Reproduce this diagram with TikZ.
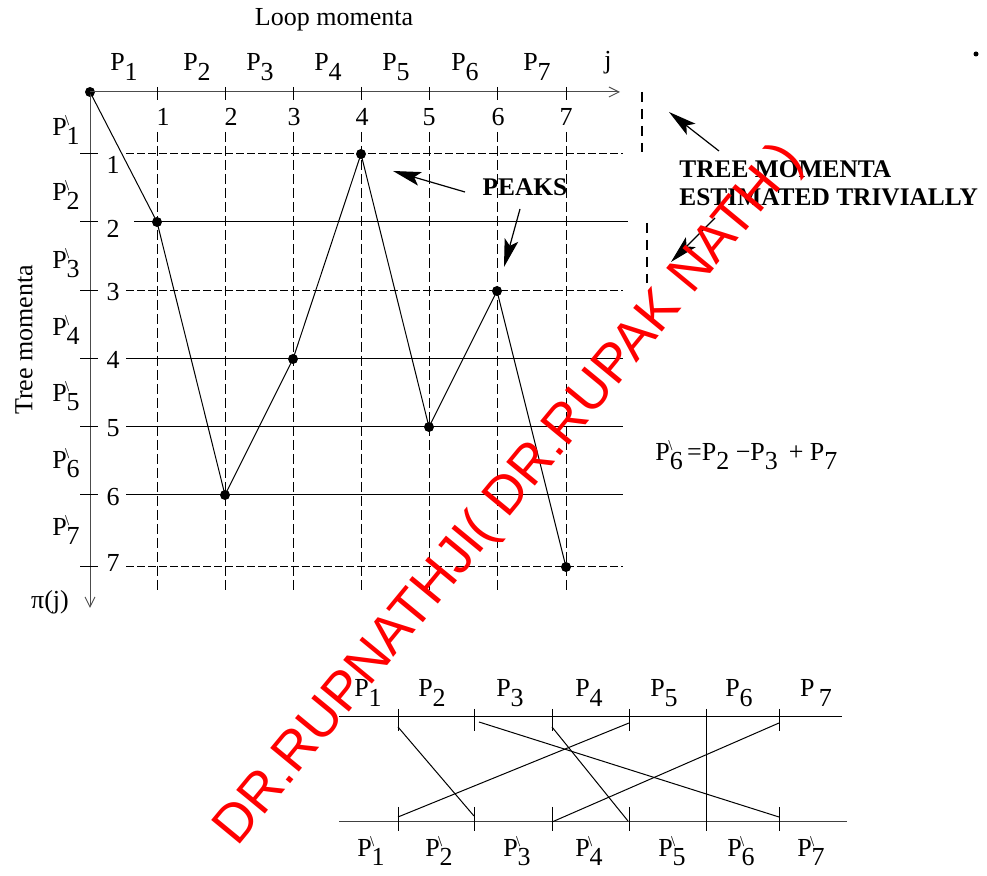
\documentclass[tikz,border=0pt]{standalone}
\usepackage{fontspec}
\setmainfont{Liberation Serif}
\newfontfamily\wmfont{Liberation Sans}
\usetikzlibrary{arrows.meta}

\newcommand{\Pm}[1]{P\raisebox{-0.8ex}{#1}}
\newcommand{\Pt}[1]{P\rlap{\raisebox{5pt}{\kern-0.8pt\fontsize{7.5}{7.5}\selectfont\textbackslash}}\raisebox{-0.8ex}{#1}}

\begin{document}
\begin{tikzpicture}[x=0.5pt, y=-0.5pt,
  lbl/.style={font=\fontsize{13}{15}\selectfont, inner sep=0pt},
  boldlbl/.style={font=\fontsize{12.7}{14}\selectfont\bfseries, inner sep=0pt, align=left},
  ptdot/.style={circle, fill=black, inner sep=0pt, minimum size=5pt},
  axis/.style={line width=0.5pt, black!70, -{Straight Barb[length=5pt,width=5pt]}},
  rule/.style={line width=0.5pt},
  dashrule/.style={line width=0.5pt, dash pattern=on 5pt off 2pt},
  finedash/.style={line width=0.5pt, dash pattern=on 4pt off 1.5pt},
  pointer/.style={line width=0.6pt, -{Stealth[length=14pt,width=7pt,inset=3pt]}},
  marker/.style={line width=1.3pt, dash pattern=on 5pt off 3.5pt},
  permline/.style={line width=0.5pt},
  wmark/.style={text=red, font=\wmfont\fontsize{27}{30}\selectfont, rotate=50.5, inner sep=0pt}
]
\useasboundingbox (0,0) rectangle (987,876);

% axes
\node[ptdot] (d0) at (90,92) {};
\coordinate (xend) at (620,92);
\coordinate (yend) at (90,608);
\draw[axis] (d0.center) -- (xend);
\draw[axis] (d0.center) -- (yend);

% columns: tick on the j axis, dashed line below the number
\draw[rule] (157,87) -- (157,100); \draw[dashrule] (157,132) -- (157,590);
\draw[rule] (225,87) -- (225,100); \draw[dashrule] (225,132) -- (225,590);
\draw[rule] (293,87) -- (293,100); \draw[dashrule] (293,132) -- (293,590);
\draw[rule] (361,87) -- (361,100); \draw[dashrule] (361,132) -- (361,590);
\draw[rule] (429,87) -- (429,100); \draw[dashrule] (429,132) -- (429,590);
\draw[rule] (497,87) -- (497,100); \draw[dashrule] (497,132) -- (497,590);
\draw[rule] (566,87) -- (566,100); \draw[dashrule] (566,132) -- (566,590);

% rows: tick on the pi(j) axis, line right of the number
\draw[rule] (80,154) -- (98,154); \draw[finedash] (126,154) -- (623,154);
\draw[rule] (80,222) -- (98,222); \draw[rule] (134,222) -- (628,222);
\draw[rule] (80,291) -- (98,291); \draw[finedash] (126,291) -- (623,291);
\draw[rule] (80,359) -- (98,359); \draw[rule] (126,359) -- (623,359);
\draw[rule] (80,427) -- (98,427); \draw[rule] (126,427) -- (623,427);
\draw[rule] (80,495) -- (98,495); \draw[rule] (126,495) -- (623,495);
\draw[rule] (80,567) -- (98,567); \draw[finedash] (126,567) -- (623,567);

% axis titles
\node[lbl] (looplbl) at (334,20) {Loop momenta};
\node[lbl, rotate=90] (treelbl) at (24,340) {Tree momenta};
\node[lbl] (pilbl) at (50,602) {π(j)};

% loop momenta along j
\node[lbl] (lp1) at (124,67) {\Pm{1}};
\node[lbl] (lp2) at (197,67) {\Pm{2}};
\node[lbl] (lp3) at (260,67) {\Pm{3}};
\node[lbl] (lp4) at (328,67) {\Pm{4}};
\node[lbl] (lp5) at (396,67) {\Pm{5}};
\node[lbl] (lp6) at (465,67) {\Pm{6}};
\node[lbl] (lp7) at (537,67) {\Pm{7}};
\node[lbl] (lj) at (608,63) {j};

% column numbers
\node[lbl] (cn1) at (163,117) {1};
\node[lbl] (cn2) at (231,117) {2};
\node[lbl] (cn3) at (294,117) {3};
\node[lbl] (cn4) at (362,117) {4};
\node[lbl] (cn5) at (429,117) {5};
\node[lbl] (cn6) at (498,117) {6};
\node[lbl] (cn7) at (566,117) {7};

% tree momenta along pi(j)
\node[lbl] (tp1) at (66,130) {\Pt{1}};
\node[lbl] (tp2) at (66,195) {\Pt{2}};
\node[lbl] (tp3) at (66,263) {\Pt{3}};
\node[lbl] (tp4) at (66,330) {\Pt{4}};
\node[lbl] (tp5) at (66,396) {\Pt{5}};
\node[lbl] (tp6) at (66,463) {\Pt{6}};
\node[lbl] (tp7) at (66,530) {\Pt{7}};

% row numbers
\node[lbl] (rn1) at (113,165) {1};
\node[lbl] (rn2) at (113,229) {2};
\node[lbl] (rn3) at (113,292) {3};
\node[lbl] (rn4) at (113,360) {4};
\node[lbl] (rn5) at (113,428) {5};
\node[lbl] (rn6) at (113,497) {6};
\node[lbl] (rn7) at (113,563) {7};

% the permutation pi(j)
\node[ptdot] (d1) at (157,222) {};
\node[ptdot] (d2) at (225,495) {};
\node[ptdot] (d3) at (293,359) {};
\node[ptdot] (d4) at (361,154) {};
\node[ptdot] (d5) at (429,427) {};
\node[ptdot] (d6) at (497,291) {};
\node[ptdot] (d7) at (566,567) {};
\draw[rule] (d0.center) -- (d1.center) -- (d2.center) -- (d3.center) -- (d4.center)
  -- (d5.center) -- (d6.center) -- (d7.center);

% peaks
\node[boldlbl] (peaks) at (525,187) {PEAKS};
\coordinate (pk1s) at (465,192);
\coordinate (pk1e) at (393,171);
\coordinate (pk2s) at (520,209);
\coordinate (pk2e) at (504,267);
\draw[pointer] (pk1s) -- (pk1e);
\draw[pointer] (pk2s) -- (pk2e);

% trivially estimated tree momenta
\coordinate (mk1a) at (642,92);
\coordinate (mk1b) at (642,152);
\coordinate (mk2a) at (647,223);
\coordinate (mk2b) at (647,283);
\draw[marker] (mk1a) -- (mk1b);
\draw[marker] (mk2a) -- (mk2b);
\node[boldlbl, anchor=west] (triv) at (679,183) {TREE MOMENTA\\ESTIMATED TRIVIALLY};
\coordinate (tr1s) at (719,151);
\coordinate (tr1e) at (669,112);
\coordinate (tr2s) at (715,218);
\coordinate (tr2e) at (671,262);
\draw[pointer] (tr1s) -- (tr1e);
\draw[pointer] (tr2s) -- (tr2e);
\node[circle, fill=black, inner sep=0pt, minimum size=2.5pt] (spot) at (976,54) {};

% relation
\node[lbl, anchor=west] (rel) at (655,455) {\Pt{6}\,=\Pm{2} −\Pm{3} \,+ \Pm{7}};

% line diagram of the momenta
\coordinate (ul) at (339,717);
\coordinate (ur) at (842,717);
\coordinate (ll) at (339,822);
\coordinate (lr) at (847,822);
\draw[rule] (ul) -- (ur);
\draw[rule, black!75] (ll) -- (lr);
\draw[rule] (398,709) -- (398,731); \draw[rule] (398,807) -- (398,831);
\draw[rule] (474,709) -- (474,731); \draw[rule] (474,807) -- (474,831);
\draw[rule] (552,709) -- (552,731); \draw[rule] (552,807) -- (552,831);
\draw[rule] (629,709) -- (629,731); \draw[rule] (629,807) -- (629,831);
\draw[rule] (779,709) -- (779,731); \draw[rule] (779,807) -- (779,831);
\coordinate (v5a) at (706,709);
\coordinate (v5b) at (706,831);
\draw[rule] (v5a) -- (v5b);

\coordinate (ua) at (398,727);
\coordinate (ub) at (479,722);
\coordinate (uc) at (552,727);
\coordinate (ud) at (629,723);
\coordinate (ue) at (779,723);
\coordinate (la) at (474,816);
\coordinate (lb) at (779,817);
\coordinate (lc) at (628,821);
\coordinate (ld) at (398,817);
\coordinate (le) at (552,822);
\draw[permline] (ua) -- (la);
\draw[permline] (ub) -- (lb);
\draw[permline] (uc) -- (lc);
\draw[permline] (ud) -- (ld);
\draw[permline] (ue) -- (le);

\node[lbl] (up1) at (368,693) {\Pm{1}};
\node[lbl] (up2) at (432,693) {\Pm{2}};
\node[lbl] (up3) at (510,693) {\Pm{3}};
\node[lbl] (up4) at (589,693) {\Pm{4}};
\node[lbl] (up5) at (664,693) {\Pm{5}};
\node[lbl] (up6) at (739,693) {\Pm{6}};
\node[lbl] (up7) at (816,693) {P\,\raisebox{-0.8ex}{7}};

\node[lbl] (dn1) at (371,851) {\Pt{1}};
\node[lbl] (dn2) at (439,851) {\Pt{2}};
\node[lbl] (dn3) at (517,851) {\Pt{3}};
\node[lbl] (dn4) at (589,851) {\Pt{4}};
\node[lbl] (dn5) at (672,851) {\Pt{5}};
\node[lbl] (dn6) at (741,851) {\Pt{6}};
\node[lbl] (dn7) at (811,851) {\Pt{7}};

% watermark
\node[wmark] (wm) at (510,495) {DR.RUPNATHJI( DR.RUPAK NATH )};
\end{tikzpicture}
\end{document}
